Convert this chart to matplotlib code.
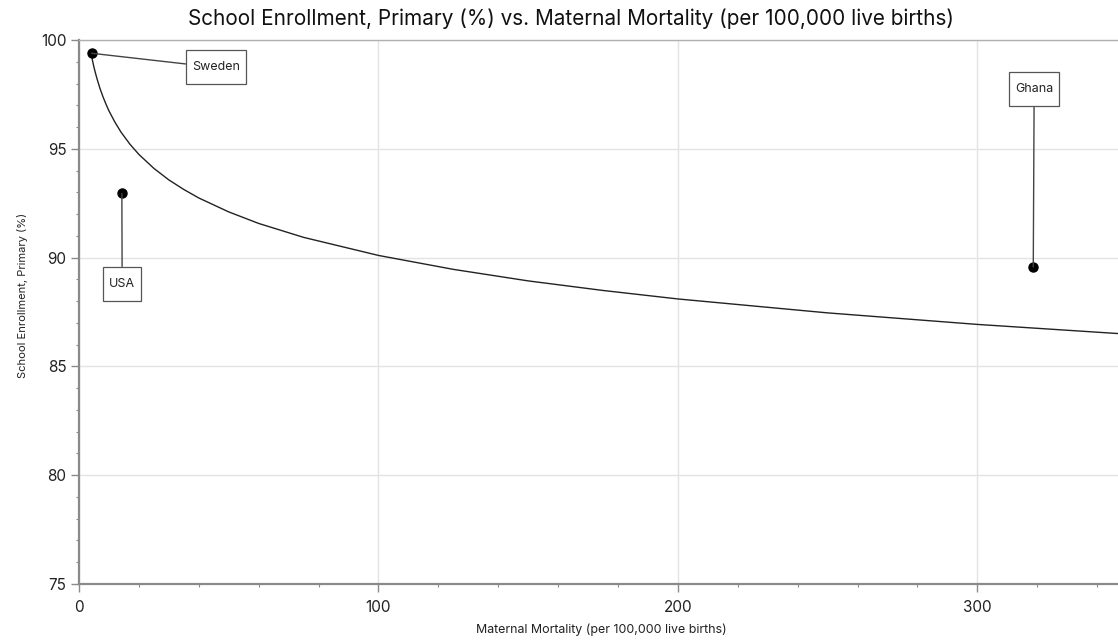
import matplotlib
matplotlib.use("Agg")
from matplotlib import pyplot as plt
from matplotlib.path import Path
from matplotlib.ticker import MultipleLocator

plt.rcParams['font.family'] = ['Inter', 'DejaVu Sans']

# data
countries = ["Sweden", "USA", "Ghana"]
mortality = [4.2, 14.3, 318.7]
enrollment = [99.39, 92.95, 89.57]
label_x = [45.8, 14.4, 319.0]
label_y = [98.74, 88.79, 97.75]

# trend curve
trend_x = [4, 4.5, 5, 5.5, 6, 7, 8, 9, 10, 12, 14, 17, 20, 25, 30, 35, 40,
           50, 60, 75, 100, 125, 150, 175, 200, 250, 300, 347]
trend_y = [99.39, 99.05, 98.74, 98.47, 98.22, 97.77, 97.39, 97.05, 96.74,
           96.22, 95.77, 95.21, 94.74, 94.10, 93.57, 93.13, 92.74, 92.10,
           91.57, 90.93, 90.10, 89.46, 88.93, 88.49, 88.10, 87.46, 86.93,
           86.51]

fig = plt.figure(figsize=(11.18, 6.41), dpi=100)
ax = fig.add_axes([0.0707, 0.0889, 0.9293, 0.8487])


def label_box(x0, y0, width, height, mutation_size):
    # fixed-height callout box, a few px wider than the text
    cx, cy = x0 + width / 2, y0 + height / 2
    w, h = width + 12, 34
    return Path([(cx - w / 2, cy - h / 2), (cx + w / 2, cy - h / 2),
                 (cx + w / 2, cy + h / 2), (cx - w / 2, cy + h / 2),
                 (cx - w / 2, cy - h / 2)], closed=True)


def fit(t, target, rotated=False):
    r = fig.canvas.get_renderer()
    ext = t.get_window_extent(r)
    size = ext.height if rotated else ext.width
    return target / size


ax.plot(trend_x, trend_y, color="#222222", lw=1.0, zorder=3)
ax.plot(mortality, enrollment, "o", color="black", ms=6.5, zorder=4)

ax.set_xlim(0, 347)
ax.set_ylim(75, 100)
ax.xaxis.set_major_locator(MultipleLocator(100))
ax.xaxis.set_minor_locator(MultipleLocator(20))
ax.yaxis.set_major_locator(MultipleLocator(5))
ax.yaxis.set_minor_locator(MultipleLocator(1))

ax.grid(True, which="major", color="#e3e3e3", lw=1.0, zorder=0)
ax.set_axisbelow(True)

for s in ["left", "bottom"]:
    ax.spines[s].set_color("#8a8a8a")
    ax.spines[s].set_linewidth(1.6)
ax.spines["top"].set_color("#b0b0b0")
ax.spines["top"].set_linewidth(1.0)
ax.spines["right"].set_visible(False)

ax.tick_params(which="major", length=5.5, width=1.0, color="#8a8a8a",
               labelsize=11, labelcolor="#222222")
ax.tick_params(which="minor", length=2.5, width=0.8, color="#8a8a8a")
ax.tick_params(axis="y", which="major", pad=3.5)
ax.tick_params(axis="x", which="major", pad=6)

title = fig.text(571 / 1118, 1 - 25 / 641,
                 "School Enrollment, Primary (%) vs. Maternal Mortality (per 100,000 live births)",
                 fontsize=14, color="#111111", ha="center", va="baseline")
ax.set_xlabel("Maternal Mortality (per 100,000 live births)", fontsize=9,
              color="#222222")
ax.set_ylabel("School Enrollment, Primary (%)", fontsize=8.5, color="#222222")
ax.xaxis.set_label_coords(0.503, -0.0717)
ax.yaxis.set_label_coords(-0.049, 0.530)

# size the texts to the widths measured on the reference
fig.canvas.draw()
title.set_fontsize(title.get_fontsize() * fit(title, 764))
xl = ax.xaxis.label
xl.set_fontsize(xl.get_fontsize() * fit(xl, 251))
yl = ax.yaxis.label
yl.set_fontsize(yl.get_fontsize() * fit(yl, 165, rotated=True))

probe = fig.text(0, 0, countries[0], fontsize=9)
note_size = 9 * fit(probe, 48)
probe.remove()

for name, px, py, lx, ly in zip(countries, mortality, enrollment, label_x, label_y):
    ax.annotate(name, xy=(px, py), xytext=(lx, ly), fontsize=note_size,
                ha="center", va="center", color="#222222",
                bbox=dict(boxstyle=label_box, fc="white", ec="#555555", lw=0.9),
                arrowprops=dict(arrowstyle="-", color="#444444", lw=1.0,
                                shrinkA=0, shrinkB=0),
                zorder=5)

fig.savefig("out.png", dpi=100)
